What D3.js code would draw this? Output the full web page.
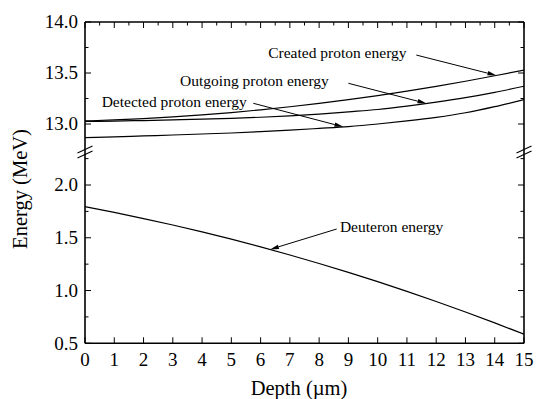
<!DOCTYPE html>
<html>
<head>
<meta charset="utf-8">
<script src="https://cdn.jsdelivr.net/npm/d3@7"></script>
<style>
  body { margin: 0; background: #fff; }
  svg { display: block; }
  text { font-family: "Liberation Serif", "Times New Roman", serif; fill: #000; }
</style>
</head>
<body>
<svg id="chart" width="536" height="399"></svg>
<script>
// ---- data ----
const depth = [0,1,2,3,4,5,6,7,8,9,10,11,12,13,14,15];
const createdProton  = [13.030,13.040,13.053,13.069,13.089,13.112,13.139,13.169,13.202,13.239,13.279,13.322,13.369,13.419,13.473,13.529];
const outgoingProton = [13.025,13.029,13.034,13.040,13.047,13.055,13.066,13.080,13.097,13.119,13.142,13.175,13.214,13.258,13.310,13.370];
const detectedProton = [12.866,12.874,12.883,12.892,12.902,12.912,12.925,12.940,12.957,12.975,13.000,13.030,13.065,13.110,13.170,13.240];
const deuteron       = [1.794,1.740,1.682,1.621,1.556,1.487,1.414,1.337,1.256,1.172,1.084,0.992,0.896,0.797,0.694,0.586];

const xTicks = [0,1,2,3,4,5,6,7,8,9,10,11,12,13,14,15];
const yTopTicks = [13.0,13.5,14.0];
const yTopMinor = [13.25,13.75];
const yBotTicks = [0.5,1.0,1.5,2.0];
const yBotMinor = [0.75,1.25,1.75,2.25];

// annotations: label start (depth, energy), arrow tail (depth, energy), arrow tip depth on curve
const annotations = [
  {text:"Created proton energy",  panel:"top", lx:6.26, ly:13.647, tx:11.32, ty:13.676, tipD:14.06, series:createdProton},
  {text:"Outgoing proton energy", panel:"top", lx:3.25, ly:13.375, tx:9.0,   ty:13.399, tipD:11.67, series:outgoingProton},
  {text:"Detected proton energy", panel:"top", lx:0.57, ly:13.167, tx:5.75,  ty:13.203, tipD:8.83,  series:detectedProton},
  {text:"Deuteron energy",        panel:"bot", lx:8.71, ly:1.555,  tx:8.6,   ty:1.583,  tipD:6.32,  series:deuteron}
];

// ---- layout ----
const pL = 85, pR = 524, pT = 22, pB = 343.3, breakY = 152;
const svg = d3.select("#chart");
const x = d3.scaleLinear().domain([0,15]).range([pL,pR]);
const yTop = d3.scaleLinear().domain([13.0,14.0]).range([124,22]);
const yBot = d3.scaleLinear().domain([0.5,2.0]).range([pB,185]);
const interp = (series, d) => {
  const i = Math.min(Math.floor(d), 14), f = d - i;
  return series[i] + (series[i+1]-series[i])*f;
};

// clip paths
const defs = svg.append("defs");
defs.append("clipPath").attr("id","clipTop").append("rect").attr("x",pL).attr("y",pT).attr("width",pR-pL).attr("height",breakY-pT);
defs.append("clipPath").attr("id","clipBot").append("rect").attr("x",pL).attr("y",breakY).attr("width",pR-pL).attr("height",pB-breakY);

// curves
const lineTop = d3.line().x((d,i)=>x(depth[i])).y(d=>yTop(d)).curve(d3.curveMonotoneX);
const lineBot = d3.line().x((d,i)=>x(depth[i])).y(d=>yBot(d)).curve(d3.curveMonotoneX);
[createdProton,outgoingProton,detectedProton].forEach(s=>{
  svg.append("path").attr("d",lineTop(s)).attr("fill","none").attr("stroke","#000").attr("stroke-width",1.2).attr("clip-path","url(#clipTop)");
});
svg.append("path").attr("d",lineBot(deuteron)).attr("fill","none").attr("stroke","#000").attr("stroke-width",1.2).attr("clip-path","url(#clipBot)");

// frame
const axisW = 1.6;
svg.append("line").attr("x1",pL).attr("x2",pR).attr("y1",pT).attr("y2",pT).attr("stroke","#000").attr("stroke-width",axisW);
svg.append("line").attr("x1",pL).attr("x2",pR).attr("y1",pB).attr("y2",pB).attr("stroke","#000").attr("stroke-width",axisW);
svg.append("line").attr("x1",pL).attr("x2",pL).attr("y1",pT).attr("y2",pB).attr("stroke","#000").attr("stroke-width",axisW);
svg.append("line").attr("x1",pR).attr("x2",pR).attr("y1",pT).attr("y2",pB).attr("stroke","#000").attr("stroke-width",axisW);

// x ticks: bottom integers, top halves
const tickG = svg.append("g").attr("stroke","#000").attr("stroke-width",1);
xTicks.forEach(t=>{
  tickG.append("line").attr("x1",x(t)).attr("x2",x(t)).attr("y1",pB).attr("y2",pB-6);
  tickG.append("line").attr("x1",x(t)).attr("x2",x(t)).attr("y1",pT).attr("y2",pT+6);
  if (t < 15) tickG.append("line").attr("x1",x(t+0.5)).attr("x2",x(t+0.5)).attr("y1",pT).attr("y2",pT+3.5);
});
svg.append("g").selectAll("text").data(xTicks).join("text")
  .attr("x",d=>x(d)).attr("y",366).attr("text-anchor","middle").attr("font-size",19).text(d=>d);

// y ticks
function yTick(scale, v, len) {
  tickG.append("line").attr("x1",pL).attr("x2",pL+len).attr("y1",scale(v)).attr("y2",scale(v));
  tickG.append("line").attr("x1",pR).attr("x2",pR-len).attr("y1",scale(v)).attr("y2",scale(v));
}
yTopTicks.forEach(v=>yTick(yTop,v,6));
yTopMinor.forEach(v=>yTick(yTop,v,3.5));
yBotTicks.forEach(v=>yTick(yBot,v,6));
yBotMinor.forEach(v=>yTick(yBot,v,3.5));
const fmt = d3.format(".1f");
svg.append("g").selectAll("text").data(yTopTicks).join("text")
  .attr("x",78).attr("y",d=>yTop(d)).attr("dy","0.34em").attr("text-anchor","end").attr("font-size",19).text(fmt);
svg.append("g").selectAll("text").data(yBotTicks).join("text")
  .attr("x",78).attr("y",d=>yBot(d)).attr("dy","0.34em").attr("text-anchor","end").attr("font-size",19).text(fmt);

// break marks
[pL,pR].forEach(ax=>{
  [-2.6,2.6].forEach(off=>{
    svg.append("line").attr("x1",ax-7.5).attr("y1",breakY+off+3.5).attr("x2",ax+7.5).attr("y2",breakY+off-3.5)
      .attr("stroke","#000").attr("stroke-width",1.1);
  });
});

// annotations
annotations.forEach(a=>{
  const ys = a.panel==="top" ? yTop : yBot;
  svg.append("text").attr("x",x(a.lx)).attr("y",ys(a.ly)).attr("font-size",15.5).text(a.text);
  const x0 = x(a.tx), y0 = ys(a.ty);
  const x1 = x(a.tipD), y1 = ys(interp(a.series,a.tipD));
  const dx = x1-x0, dy = y1-y0, L = Math.hypot(dx,dy), ux = dx/L, uy = dy/L;
  const hl = 9, hw = 2.2;
  const bx = x1-ux*hl, by = y1-uy*hl;
  svg.append("line").attr("x1",x0).attr("y1",y0).attr("x2",bx).attr("y2",by).attr("stroke","#000").attr("stroke-width",1);
  svg.append("path").attr("d",`M${x1},${y1}L${bx-uy*hw},${by+ux*hw}L${bx+uy*hw},${by-ux*hw}Z`).attr("fill","#000");
});

// axis titles
svg.append("text").attr("transform","translate(26.5,189) rotate(-90)").attr("text-anchor","middle").attr("font-size",20.5).text("Energy (MeV)");
svg.append("text").attr("x",299).attr("y",395).attr("text-anchor","middle").attr("font-size",20.5).text("Depth (µm)");
</script>
</body>
</html>
